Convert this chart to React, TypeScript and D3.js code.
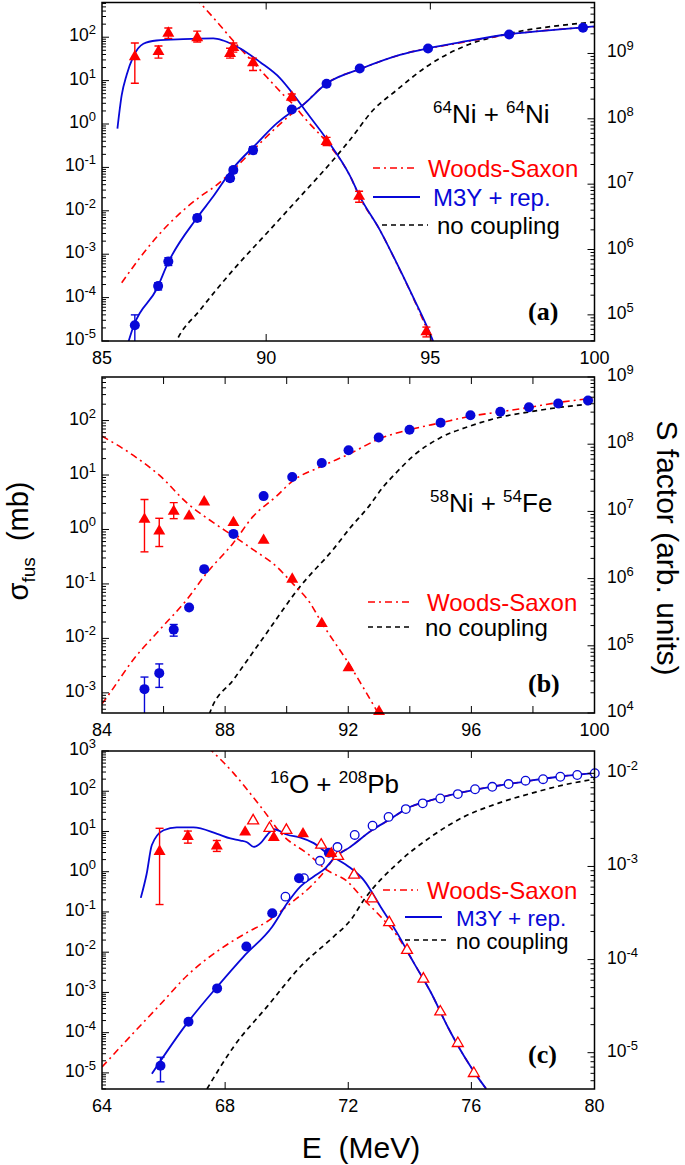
import React from 'react';
import * as d3 from 'd3';

const FONT = '"Liberation Sans", Arial, Helvetica, sans-serif';
const SERIF = '"Liberation Serif", "Times New Roman", serif';
const RED = '#ff0000';
const BLUE = '#0808d8';

// ================= Panel (a): 64Ni + 64Ni =================
const aSigE = [86.0, 86.71, 87.02, 87.9, 88.9, 89.0, 89.6, 90.78, 91.84, 92.85, 94.93, 97.4, 99.65];
const aSig = [2.3e-5, 1.85e-4, 6.8e-4, 6.8e-3, 0.056, 0.087, 0.25, 2.16, 8.5, 19, 55, 115, 165];
const aSigLo = [8e-6, 1.5e-4, 5.5e-4, 5.8e-3, 0.048, 0.075, 0.21, null, null, null, null, null, null];
const aSigHi = [4.0e-5, 2.2e-4, 8.3e-4, 8.0e-3, 0.065, 0.1, 0.3, null, null, null, null, null, null];

const aSE = [86.0, 86.72, 87.02, 87.9, 88.9, 89.0, 89.6, 90.78, 91.84, 92.83, 94.88];
const aS = [8.9e8, 1.07e9, 2.04e9, 1.74e9, 1.0e9, 1.23e9, 7.2e8, 2.14e8, 4.5e7, 6.5e6, 5.5e4];
const aSLo = [3.5e8, 8.5e8, 1.7e9, 1.5e9, 8.5e8, 1.05e9, 5.5e8, 1.9e8, 3.9e7, 5.3e6, 4.6e4];
const aSHi = [1.45e9, 1.3e9, 2.45e9, 2.2e9, 1.2e9, 1.45e9, 8.5e8, 2.4e8, 5.2e7, 7.8e6, 6.5e4];

const aM3YsigE = [85.75, 85.97, 86.67, 87.01, 87.89, 88.38, 88.99, 89.72, 90.33, 90.72, 91.03, 91.85, 92.94, 94.07, 94.95, 95.89, 97.39, 98.33, 100];
const aM3Ysig = [7e-6, 2.3e-5, 1.6e-4, 6.3e-4, 6.8e-3, 0.021, 0.095, 0.36, 1.05, 1.78, 2.45, 8.7, 19.5, 39, 56, 76, 117, 138, 178];
const aWSsigE = [85.6, 86.26, 86.66, 87.37, 87.98, 88.49, 88.99, 89.6, 90.32, 90.72, 91.03, 91.85, 92.94, 94.07, 95.89, 97.39, 100];
const aWSsig = [2.2e-4, 1.05e-3, 2.45e-3, 8.7e-3, 0.021, 0.039, 0.087, 0.25, 0.85, 1.58, 2.4, 8.7, 19.5, 39, 74, 115, 174];
const aNCsigE = [87.1, 87.27, 87.98, 88.99, 90.01, 91.03, 92.04, 92.55, 93.26, 93.97, 94.88, 95.99, 97.42, 99.04, 100];
const aNCsig = [5e-6, 1e-5, 5.1e-5, 4.3e-4, 3.0e-3, 0.021, 0.148, 0.43, 2.1, 6.0, 20.9, 60, 123, 190, 224];
const aM3YSE = [85.47, 85.6, 85.75, 85.95, 86.26, 86.66, 87.47, 88.39, 88.69, 89.2, 89.81, 90.42, 90.82, 91.23, 91.84, 92.55, 92.85, 93.46, 93.97, 94.47, 95.08, 95.3];
const aM3YS = [7.1e7, 2.3e8, 4.7e8, 8.9e8, 1.41e9, 1.58e9, 1.66e9, 1.7e9, 1.58e9, 1.2e9, 7.4e8, 4.2e8, 2.4e8, 1.26e8, 4.9e7, 1.35e7, 6.5e6, 2.0e6, 6.3e5, 1.9e5, 4.0e4, 2.0e4];
const aWSSE = [87.85, 88.49, 88.99, 89.5, 90.01, 90.52, 90.82, 91.23, 91.84, 92.55, 92.85, 93.46, 93.97, 94.47, 95.05, 95.3];
const aWSS = [7.1e9, 3.1e9, 1.58e9, 8.3e8, 4.4e8, 2.34e8, 1.66e8, 9.5e7, 4.4e7, 1.35e7, 6.3e6, 2.0e6, 6.2e5, 1.86e5, 4.0e4, 2.0e4];

const aXLabels = [85, 90, 95, 100];
const aXTicks = [90, 95];

// ================= Panel (b): 58Ni + 54Fe =================
const bSigE = [85.38, 85.86, 86.33, 86.83, 87.32, 88.27, 89.25, 90.18, 91.14, 92.01, 92.99, 93.99, 95.0, 95.97, 96.94, 97.87, 98.82, 99.79];
const bSig = [1.17e-3, 2.3e-3, 0.0145, 0.037, 0.187, 0.83, 4.1, 9.2, 16.6, 28.5, 49, 68, 91, 125, 145, 175, 205, 233];
const bSigLo = [2e-4, 1.26e-3, 0.011, null, null, null, null, null, null, null, null, null, null, null, null, null, null, null];
const bSigHi = [1.95e-3, 3.4e-3, 0.018, null, null, null, null, null, null, null, null, null, null, null, null, null, null, null];

const bSE = [85.38, 85.86, 86.33, 86.83, 87.32, 88.27, 89.25, 90.18, 91.14, 92.01, 93.0];
const bS = [7.6e6, 5.1e6, 1.0e7, 8.5e6, 1.38e7, 6.8e6, 3.7e6, 9.8e5, 2.14e5, 4.7e4, 1.05e4];
const bSLo = [2.5e6, 3.0e6, 7.8e6, null, null, null, null, null, null, null, null];
const bSHi = [1.5e7, 7.9e6, 1.35e7, null, null, null, null, null, null, null, null];

const bWSsigE = [84.0, 84.26, 85.02, 85.88, 86.75, 87.4, 88.26, 88.91, 89.67, 90.17, 91.14, 92.01, 93.08, 94.0, 95.0, 95.97, 96.94, 97.87, 98.81, 100];
const bWSsig = [6.3e-4, 1.0e-3, 4.1e-3, 0.0145, 0.051, 0.158, 0.56, 1.74, 4.1, 7.6, 14.5, 24, 48, 68, 91, 120, 145, 174, 214, 257];
const bNCsigE = [87.4, 87.51, 88.27, 89.35, 90.43, 91.51, 92.05, 92.7, 93.13, 93.57, 94.11, 94.98, 95.95, 96.93, 97.9, 98.98, 100];
const bNCsig = [2.8e-4, 4.4e-4, 1.74e-3, 0.0126, 0.089, 0.43, 1.05, 2.8, 6.0, 11.2, 22.4, 48, 79, 115, 145, 178, 204];
const bWSSE = [84.0, 85.02, 85.88, 86.75, 87.62, 88.27, 88.91, 89.67, 90.17, 90.75, 91.14, 92.01, 92.97, 93.1];
const bWSS = [1.32e8, 6.8e7, 3.4e7, 1.35e7, 6.8e6, 4.3e6, 2.7e6, 1.51e6, 8.7e5, 4.4e5, 2.2e5, 5.5e4, 1.0e4, 7.9e3];

const bXLabels = [84, 88, 92, 96, 100];
const bXTicks = [86, 88, 90, 92, 94, 96, 98];

// ================= Panel (c): 16O + 208Pb =================
const cSigE = [65.9, 66.81, 67.74, 68.69, 69.53, 70.4, 71.37];
const cSig = [1.5e-5, 1.86e-4, 1.26e-3, 0.0138, 0.093, 0.69, 2.96];
const cSigLo = [6e-6, null, null, null, null, null, null];
const cSigHi = [2.45e-5, null, null, null, null, null, null];
const cSigOpenE = [69.96, 70.56, 71.08, 71.65, 72.21, 72.79, 73.31, 73.87, 74.42, 74.99, 75.56, 76.12, 76.68, 77.21, 77.76, 78.33, 78.89, 79.44, 80.01];
const cSigOpen = [0.24, 0.69, 1.87, 4.1, 8.2, 13.9, 23, 36, 50, 66, 85, 112, 129, 151, 183, 199, 229, 253, 280];

const cSE = [65.87, 66.79, 67.73, 68.65, 69.58, 70.53, 71.45];
const cS = [1.45e-3, 2.1e-3, 1.66e-3, 2.34e-3, 2.04e-3, 2.24e-3, 1.38e-3];
const cSLo = [3.9e-4, 1.78e-3, 1.45e-3, null, null, null, null];
const cSHi = [2.57e-3, 2.4e-3, 1.9e-3, null, null, null, null];
const cSOpenE = [68.91, 69.44, 69.99, 71.12, 71.67, 72.19, 72.77, 73.33, 73.91, 74.44, 74.99, 75.56, 76.08];
const cSOpen = [3.1e-3, 2.57e-3, 2.45e-3, 1.7e-3, 1.29e-3, 8.1e-4, 4.5e-4, 2.5e-4, 1.26e-4, 6.2e-5, 2.75e-5, 1.26e-5, 6.0e-6];

const cM3YsigE = [65.62, 66.76, 67.74, 68.6, 69.53, 70.02, 70.45, 70.88, 71.26, 71.53, 72.08, 72.79, 73.33, 73.93, 74.69, 75.56, 76.64, 77.73, 78.81, 80.0];
const cM3Ysig = [9.5e-6, 1.7e-4, 1.38e-3, 7.8e-3, 0.043, 0.166, 0.43, 0.76, 1.23, 2.14, 4.2, 11, 19.5, 38, 60, 89, 129, 174, 229, 282];
const cWSsigE = [64.0, 65.02, 65.89, 66.76, 67.74, 68.72, 69.37, 70.13, 70.78, 71.26, 71.53, 72.08, 72.79, 73.33, 73.93, 74.69, 75.56, 76.64, 77.73, 78.81, 80.0];
const cWSsig = [1.4e-5, 9.8e-5, 5.0e-4, 2.6e-3, 0.0105, 0.031, 0.058, 0.166, 0.43, 1.1, 2.14, 4.2, 11, 19.5, 38, 60, 89, 129, 174, 229, 282];
const cNCsigE = [67.41, 68.28, 69.37, 70.45, 71.53, 72.08, 72.51, 73.6, 74.69, 75.77, 76.86, 77.95, 79.03, 80.0];
const cNCsig = [4e-6, 4.5e-5, 4.5e-4, 4.4e-3, 0.0245, 0.063, 0.2, 1.62, 7.4, 23.4, 50, 89, 145, 200];
const cM3YSE = [65.26, 65.45, 65.62, 66.0, 66.43, 66.97, 67.74, 68.17, 68.5, 68.71, 68.93, 69.15, 69.37, 69.58, 70.02, 70.45, 70.88, 71.32, 71.97, 72.51, 73.05, 73.6, 74.14, 74.69, 75.23, 75.77, 76.2, 76.48];
const cM3YS = [4.6e-4, 8.3e-4, 1.7e-3, 2.45e-3, 2.63e-3, 2.63e-3, 2.24e-3, 2.0e-3, 1.9e-3, 1.82e-3, 1.62e-3, 1.78e-3, 2.19e-3, 2.51e-3, 2.19e-3, 2.04e-3, 1.78e-3, 1.38e-3, 1.02e-3, 7.1e-4, 3.7e-4, 1.9e-4, 9.1e-5, 4.4e-5, 1.9e-5, 9.1e-6, 5.5e-6, 4.1e-6];
const cWSSE = [67.45, 68.28, 69.15, 69.91, 70.67, 71.32, 71.97, 72.51, 73.05, 73.6, 74.14, 74.69, 75.23, 75.77, 76.2, 76.48];
const cWSS = [1.9e-2, 1.0e-2, 4.4e-3, 2.1e-3, 1.38e-3, 9.1e-4, 6.9e-4, 4.4e-4, 2.9e-4, 1.78e-4, 9.1e-5, 4.4e-5, 1.9e-5, 9.1e-6, 5.5e-6, 4.1e-6];

const cXLabels = [64, 68, 72, 76, 80];
const cXTicks = [68, 72, 76];

// ================= helpers =================
type Curve = { E: number[]; V: number[]; axis: 'L' | 'R'; kind: 'ws' | 'm3y' | 'nc' };
type Pts = {
  E: number[]; V: number[]; lo?: (number | null)[]; hi?: (number | null)[];
  axis: 'L' | 'R'; shape: 'circle' | 'tri'; filled: boolean; color: string;
};
type Legend = { text: string; kind: 'ws' | 'm3y' | 'nc'; y: number; lx1: number; lx2: number; tx: number; fs: number };
type PanelCfg = {
  id: string; top: number; bottom: number;
  xDomain: [number, number]; yL: [number, number]; yR: [number, number];
  xLabels: number[]; xTicks: number[];
  curves: Curve[]; points: Pts[];
  title: { pre1: string; el1: string; pre2: string; el2: string; x: number; y: number };
  letter: { text: string; x: number; y: number };
  legend: Legend[];
};

const X0 = 102, X1 = 594.5;

const styleOf = (k: 'ws' | 'm3y' | 'nc') =>
  k === 'ws' ? { stroke: RED, dash: '7,4,2,4', w: 1.6 }
    : k === 'm3y' ? { stroke: BLUE, dash: undefined, w: 1.8 }
      : { stroke: '#000', dash: '5,4', w: 1.7 };

function logTicks(domain: [number, number]) {
  const out: { v: number; major: boolean }[] = [];
  const lo = Math.floor(Math.log10(domain[0]));
  const hi = Math.ceil(Math.log10(domain[1]));
  for (let d = lo; d <= hi; d++) {
    for (let k = 1; k <= 9; k++) {
      const v = k * Math.pow(10, d);
      if (v >= domain[0] * 0.999 && v <= domain[1] * 1.001) out.push({ v, major: k === 1 });
    }
  }
  return out;
}

function Pow10({ x, y, v, anchor }: { x: number; y: number; v: number; anchor: 'start' | 'end' }) {
  const e = Math.round(Math.log10(v));
  return (
    <text x={x} y={y} textAnchor={anchor} fontFamily={FONT} fontSize={17.5} fill="#000">
      10<tspan fontSize={13} dy={-7}>{e < 0 ? '-' + Math.abs(e) : String(e)}</tspan>
    </text>
  );
}

function Panel({ cfg }: { cfg: PanelCfg }) {
  const x = d3.scaleLinear().domain(cfg.xDomain).range([X0, X1]);
  const yL = d3.scaleLog().domain(cfg.yL).range([cfg.bottom, cfg.top]);
  const yR = d3.scaleLog().domain(cfg.yR).range([cfg.bottom, cfg.top]);
  const ys = (a: 'L' | 'R') => (a === 'L' ? yL : yR);
  const clip = `clip-${cfg.id}`;
  const tri = d3.symbol().type(d3.symbolTriangle);

  const lTicks = logTicks(cfg.yL);
  const rTicks = logTicks(cfg.yR);

  return (
    <g>
      <defs>
        <clipPath id={clip}>
          <rect x={X0} y={cfg.top} width={X1 - X0} height={cfg.bottom - cfg.top} />
        </clipPath>
      </defs>
      <g clipPath={`url(#${clip})`}>
        {cfg.curves.map((c, i) => {
          const s = styleOf(c.kind);
          const y = ys(c.axis);
          const line = d3.line<number>()
            .x((_, j) => x(c.E[j]))
            .y((v) => y(v))
            .curve(d3.curveMonotoneX);
          return (
            <path key={i} d={line(c.V) || ''} fill="none" stroke={s.stroke}
              strokeWidth={s.w} strokeDasharray={s.dash} />
          );
        })}
      </g>
      {cfg.points.map((p, i) => {
        const y = ys(p.axis);
        return (
          <g key={i}>
            <g clipPath={`url(#${clip})`}>
              {p.E.map((e, j) => {
                const lo = p.lo ? p.lo[j] : null;
                const hi = p.hi ? p.hi[j] : null;
                if (lo == null || hi == null) return null;
                const cx = x(e);
                return (
                  <g key={j} stroke={p.color} strokeWidth={1.4}>
                    <line x1={cx} x2={cx} y1={y(lo)} y2={y(hi)} />
                    <line x1={cx - 4} x2={cx + 4} y1={y(lo)} y2={y(lo)} />
                    <line x1={cx - 4} x2={cx + 4} y1={y(hi)} y2={y(hi)} />
                  </g>
                );
              })}
            </g>
            {p.E.map((e, j) => {
              const cx = x(e), cy = y(p.V[j]);
              if (p.shape === 'circle') {
                return p.filled
                  ? <circle key={j} cx={cx} cy={cy} r={5} fill={p.color} />
                  : <circle key={j} cx={cx} cy={cy} r={4.3} fill="#fff" stroke={p.color} strokeWidth={1.3} />;
              }
              return p.filled
                ? <path key={j} d={tri.size(62)() || ''} transform={`translate(${cx},${cy})`} fill={p.color} />
                : <path key={j} d={tri.size(52)() || ''} transform={`translate(${cx},${cy})`} fill="#fff" stroke={p.color} strokeWidth={1.3} />;
            })}
          </g>
        );
      })}

      <rect x={X0} y={cfg.top} width={X1 - X0} height={cfg.bottom - cfg.top} fill="none" stroke="#000" strokeWidth={1.5} />

      {lTicks.map((t, i) => {
        const yy = yL(t.v);
        return <line key={'l' + i} x1={X0} x2={X0 + (t.major ? 7 : 4)} y1={yy} y2={yy} stroke="#000" strokeWidth={1} />;
      })}
      {lTicks.filter((t) => t.major).map((t, i) => (
        <Pow10 key={'ll' + i} x={96} y={yL(t.v) + 4} v={t.v} anchor="end" />
      ))}
      {rTicks.map((t, i) => {
        const yy = yR(t.v);
        return <line key={'r' + i} x1={X1} x2={X1 - (t.major ? 7 : 4)} y1={yy} y2={yy} stroke="#000" strokeWidth={1} />;
      })}
      {rTicks.filter((t) => t.major).map((t, i) => (
        <Pow10 key={'rl' + i} x={607} y={yR(t.v) + 4} v={t.v} anchor="start" />
      ))}
      {cfg.xTicks.map((v, i) => (
        <g key={'x' + i} stroke="#000" strokeWidth={1}>
          <line x1={x(v)} x2={x(v)} y1={cfg.bottom} y2={cfg.bottom - 7} />
          <line x1={x(v)} x2={x(v)} y1={cfg.top} y2={cfg.top + 7} />
        </g>
      ))}
      {cfg.xLabels.map((v, i) => (
        <text key={'xl' + i} x={x(v)} y={cfg.bottom + 23} textAnchor="middle" fontFamily={FONT} fontSize={18}>{v}</text>
      ))}

      <text x={cfg.title.x} y={cfg.title.y} fontFamily={FONT} fontSize={26} fill="#000">
        <tspan fontSize={17} dy={-10}>{cfg.title.pre1}</tspan>
        <tspan dy={10}>{cfg.title.el1 + ' + '}</tspan>
        <tspan fontSize={17} dy={-10}>{cfg.title.pre2}</tspan>
        <tspan dy={10}>{cfg.title.el2}</tspan>
      </text>
      <text x={cfg.letter.x} y={cfg.letter.y} fontFamily={SERIF} fontWeight="bold" fontSize={26}>{cfg.letter.text}</text>

      {cfg.legend.map((l, i) => {
        const s = styleOf(l.kind);
        return (
          <g key={'lg' + i}>
            <line x1={l.lx1} x2={l.lx2} y1={l.y} y2={l.y} stroke={s.stroke} strokeWidth={s.w} strokeDasharray={s.dash} />
            <text x={l.tx} y={l.y + 9} fontFamily={FONT} fontSize={l.fs}
              fill={l.kind === 'ws' ? RED : l.kind === 'm3y' ? BLUE : '#000'}>{l.text}</text>
          </g>
        );
      })}
    </g>
  );
}

const panels: PanelCfg[] = [
  {
    id: 'a', top: 2.5, bottom: 341,
    xDomain: [85, 100], yL: [1e-5, Math.pow(10, 2.8)], yR: [Math.pow(10, 4.6), Math.pow(10, 9.78)],
    xLabels: aXLabels, xTicks: aXTicks,
    curves: [
      { E: aNCsigE, V: aNCsig, axis: 'L', kind: 'nc' },
      { E: aWSsigE, V: aWSsig, axis: 'L', kind: 'ws' },
      { E: aWSSE, V: aWSS, axis: 'R', kind: 'ws' },
      { E: aM3YsigE, V: aM3Ysig, axis: 'L', kind: 'm3y' },
      { E: aM3YSE, V: aM3YS, axis: 'R', kind: 'm3y' },
    ],
    points: [
      { E: aSE, V: aS, lo: aSLo, hi: aSHi, axis: 'R', shape: 'tri', filled: true, color: RED },
      { E: aSigE, V: aSig, lo: aSigLo, hi: aSigHi, axis: 'L', shape: 'circle', filled: true, color: BLUE },
    ],
    title: { pre1: '64', el1: 'Ni', pre2: '64', el2: 'Ni', x: 433, y: 123 },
    letter: { text: '(a)', x: 528, y: 320 },
    legend: [
      { text: 'Woods-Saxon', kind: 'ws', y: 168, lx1: 373, lx2: 418, tx: 428, fs: 24 },
      { text: 'M3Y + rep.', kind: 'm3y', y: 197, lx1: 373, lx2: 420, tx: 433, fs: 24 },
      { text: 'no coupling', kind: 'nc', y: 225, lx1: 382, lx2: 428, tx: 437, fs: 24 },
    ],
  },
  {
    id: 'b', top: 377, bottom: 713,
    xDomain: [84, 100], yL: [Math.pow(10, -3.37), Math.pow(10, 2.8)], yR: [1e4, 1e9],
    xLabels: bXLabels, xTicks: bXTicks,
    curves: [
      { E: bNCsigE, V: bNCsig, axis: 'L', kind: 'nc' },
      { E: bWSsigE, V: bWSsig, axis: 'L', kind: 'ws' },
      { E: bWSSE, V: bWSS, axis: 'R', kind: 'ws' },
    ],
    points: [
      { E: bSE, V: bS, lo: bSLo, hi: bSHi, axis: 'R', shape: 'tri', filled: true, color: RED },
      { E: bSigE, V: bSig, lo: bSigLo, hi: bSigHi, axis: 'L', shape: 'circle', filled: true, color: BLUE },
    ],
    title: { pre1: '58', el1: 'Ni', pre2: '54', el2: 'Fe', x: 430, y: 512 },
    letter: { text: '(b)', x: 528, y: 692 },
    legend: [
      { text: 'Woods-Saxon', kind: 'ws', y: 602, lx1: 368, lx2: 413, tx: 427, fs: 24 },
      { text: 'no coupling', kind: 'nc', y: 627, lx1: 368, lx2: 413, tx: 425, fs: 24 },
    ],
  },
  {
    id: 'c', top: 751, bottom: 1089,
    xDomain: [64, 80], yL: [Math.pow(10, -5.4), 1e3], yR: [Math.pow(10, -5.39), Math.pow(10, -1.76)],
    xLabels: cXLabels, xTicks: cXTicks,
    curves: [
      { E: cNCsigE, V: cNCsig, axis: 'L', kind: 'nc' },
      { E: cWSsigE, V: cWSsig, axis: 'L', kind: 'ws' },
      { E: cWSSE, V: cWSS, axis: 'R', kind: 'ws' },
      { E: cM3YsigE, V: cM3Ysig, axis: 'L', kind: 'm3y' },
      { E: cM3YSE, V: cM3YS, axis: 'R', kind: 'm3y' },
    ],
    points: [
      { E: cSOpenE, V: cSOpen, axis: 'R', shape: 'tri', filled: false, color: RED },
      { E: cSigOpenE, V: cSigOpen, axis: 'L', shape: 'circle', filled: false, color: BLUE },
      { E: cSigE, V: cSig, lo: cSigLo, hi: cSigHi, axis: 'L', shape: 'circle', filled: true, color: BLUE },
      { E: cSE, V: cS, lo: cSLo, hi: cSHi, axis: 'R', shape: 'tri', filled: true, color: RED },
    ],
    title: { pre1: '16', el1: 'O', pre2: '208', el2: 'Pb', x: 270, y: 793 },
    letter: { text: '(c)', x: 528, y: 1063 },
    legend: [
      { text: 'Woods-Saxon', kind: 'ws', y: 890, lx1: 383, lx2: 418, tx: 427, fs: 24 },
      { text: 'M3Y + rep.', kind: 'm3y', y: 917, lx1: 405, lx2: 442, tx: 456, fs: 22.5 },
      { text: 'no coupling', kind: 'nc', y: 940, lx1: 405, lx2: 448, tx: 456, fs: 22 },
    ],
  },
];

export default function App() {
  return (
    <svg width={685} height={1165} viewBox="0 0 685 1165"
      style={{ position: 'absolute', left: 0, top: 0, background: '#fff' }}>
      <rect width={685} height={1165} fill="#fff" />
      {panels.map((p) => <Panel key={p.id} cfg={p} />)}
      <text transform="translate(28,541) rotate(-90)" textAnchor="middle" fontFamily={FONT} fontSize={29}>
        σ<tspan fontSize={19} dy={7}>fus</tspan><tspan dy={-7}>{'\u00A0\u00A0(mb)'}</tspan>
      </text>
      <text transform="translate(657,548) rotate(90)" textAnchor="middle" fontFamily={FONT} fontSize={30}>
        S factor (arb. units)
      </text>
      <text x={361} y={1158} textAnchor="middle" fontFamily={FONT} fontSize={30}>{'E\u00A0\u00A0(MeV)'}</text>
    </svg>
  );
}
